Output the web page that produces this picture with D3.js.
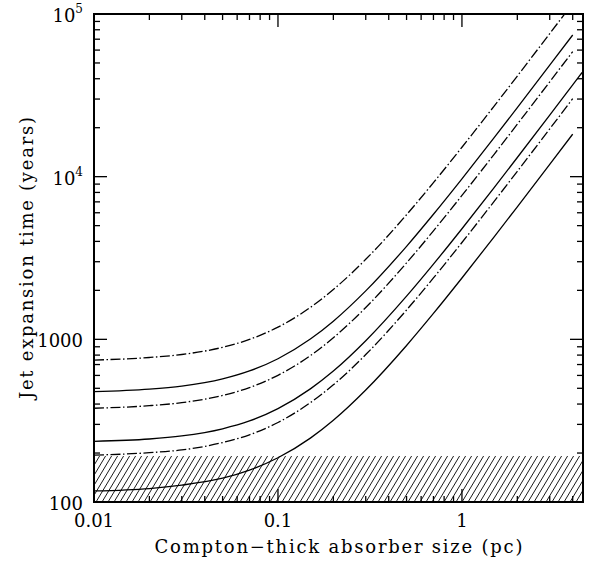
<html>
<head>
<script src="https://d3js.org/d3.v7.min.js"></script>
<style>
body { margin: 0; background: #fff; }
text { font-family: "DejaVu Serif", serif; fill: #000; }
</style>
</head>
<body>
<svg width=590 height=561></svg>
<script>
// absorber size (pc) where the curves were read
var sizes = [0.01, 0.02, 0.03, 0.05, 0.07, 0.1, 0.15, 0.2, 0.3, 0.5, 0.7, 1, 1.5, 2, 3, 4];
// the middle solid curve runs on to the right frame
var sizesMid = [0.01, 0.02, 0.03, 0.05, 0.07, 0.1, 0.15, 0.2, 0.3, 0.5, 0.7, 1, 1.5, 2, 3, 4, 4.5];
// expansion time (years), top curve first
var dashTop   = [746, 773, 807, 893, 999, 1188, 1571, 2023, 3104, 5836, 9186, 15167, 27251, 41561, 75740, 116215];
var solidTop  = [477, 494, 516, 571, 639, 760, 1004, 1293, 1985, 3731, 5873, 9697, 17423, 26572, 48424, 74301];
var dashMid   = [377, 391, 408, 452, 505, 601, 794, 1023, 1569, 2950, 4643, 7667, 13775, 21008, 38284, 58742];
var solidMid  = [236, 244, 255, 282, 315, 375, 496, 638, 980, 1842, 2899, 4786, 8600, 13116, 23902, 36674, 43700];
var dashLow   = [194, 201, 209, 232, 259, 308, 408, 525, 806, 1515, 2384, 3937, 7073, 10788, 19659, 30165];
var solidLow  = [117, 121, 127, 140, 157, 187, 247, 318, 488, 917, 1443, 2383, 4281, 6529, 11899, 18258];

var xTicks = [0.01, 0.1, 1];
var xTickLabels = ["0.01", "0.1", "1"];
var yTicks = [100, 1000, 1e4, 1e5];
var yTickLabels = [["100", ""], ["1000", ""], ["10", "4"], ["10", "5"]];
var hatchBand = [100, 192];   // shaded time range (years)

var series = [
  {xs: sizes, vals: dashTop, dashed: true},
  {xs: sizes, vals: solidTop, dashed: false},
  {xs: sizes, vals: dashMid, dashed: true},
  {xs: sizesMid, vals: solidMid, dashed: false},
  {xs: sizes, vals: dashLow, dashed: true},
  {xs: sizes, vals: solidLow, dashed: false}
];

var L = 94, R = 583, T = 14, B = 502;
var x = d3.scaleLog().domain([0.01, 4.55]).range([L, R]);
var y = d3.scaleLog().domain([100, 1e5]).range([B, T]);

var svg = d3.select("svg");

svg.append("defs").append("clipPath").attr("id", "plot")
  .append("rect").attr("x", L).attr("y", T).attr("width", R - L).attr("height", B - T);

// hatched band
var hy0 = y(hatchBand[1]), hy1 = y(hatchBand[0]);
var hh = hy1 - hy0;
svg.append("clipPath").attr("id", "hatch")
  .append("rect").attr("x", L).attr("y", hy0).attr("width", R - L).attr("height", hh);
svg.append("g").attr("clip-path", "url(#hatch)")
  .selectAll("line").data(d3.range(L - 40, R + 6, 6)).enter().append("line")
  .attr("x1", function(d) { return d; })
  .attr("y1", hy1)
  .attr("x2", function(d) { return d + hh * 0.6; })
  .attr("y2", hy0)
  .attr("stroke", "#000").attr("stroke-width", 0.9);

// curves
var line = d3.line()
  .x(function(d) { return x(d[0]); })
  .y(function(d) { return y(d[1]); })
  .curve(d3.curveMonotoneX);

svg.append("g").attr("clip-path", "url(#plot)")
  .selectAll("path").data(series).enter().append("path")
  .attr("d", function(s) { return line(s.xs.map(function(r, i) { return [r, s.vals[i]]; })); })
  .attr("fill", "none")
  .attr("stroke", "#000")
  .attr("stroke-width", 1.3)
  .attr("stroke-dasharray", function(s) { return s.dashed ? "10,2.5,1.5,2.5" : null; });

// ticks on all four sides
var xMinor = [], yMinor = [];
[0.01, 0.1, 1].forEach(function(d) {
  d3.range(2, 10).forEach(function(k) { if (k * d <= 4.55) xMinor.push(k * d); });
});
[100, 1000, 1e4].forEach(function(d) {
  d3.range(2, 10).forEach(function(k) { yMinor.push(k * d); });
});

var ticks = svg.append("g").attr("stroke", "#000").attr("stroke-width", 1.3);
function xt(vals, len) {
  vals.forEach(function(v) {
    ticks.append("line").attr("x1", x(v)).attr("x2", x(v)).attr("y1", B).attr("y2", B - len);
    ticks.append("line").attr("x1", x(v)).attr("x2", x(v)).attr("y1", T).attr("y2", T + len);
  });
}
function yt(vals, len) {
  vals.forEach(function(v) {
    ticks.append("line").attr("y1", y(v)).attr("y2", y(v)).attr("x1", L).attr("x2", L + len);
    ticks.append("line").attr("y1", y(v)).attr("y2", y(v)).attr("x1", R).attr("x2", R - len);
  });
}
xt(xTicks, 13); xt(xMinor, 6);
yt(yTicks, 13); yt(yMinor, 6);

// frame
svg.append("rect").attr("x", L).attr("y", T).attr("width", R - L).attr("height", B - T)
  .attr("fill", "none").attr("stroke", "#000").attr("stroke-width", 2);

// tick labels
svg.selectAll(".xl").data(xTicks).enter().append("text")
  .attr("x", function(d) { return x(d); })
  .attr("y", B + 25)
  .attr("text-anchor", "middle")
  .attr("font-size", 18)
  .text(function(d, i) { return xTickLabels[i]; });

var yl = svg.selectAll(".yl").data(yTicks).enter().append("text")
  .attr("x", L - 11)
  .attr("y", function(d) { return y(d) + 8; })
  .attr("text-anchor", "end")
  .attr("font-size", 18);
yl.append("tspan").text(function(d, i) { return yTickLabels[i][0]; });
yl.append("tspan").attr("font-size", 12).attr("dy", -9)
  .text(function(d, i) { return yTickLabels[i][1]; });

// axis titles
svg.append("text")
  .attr("x", (L + R) / 2).attr("y", 553)
  .attr("text-anchor", "middle").attr("font-size", 18)
  .attr("textLength", 368).attr("lengthAdjust", "spacing")
  .text("Compton\u2212thick absorber size (pc)");

svg.append("text")
  .attr("transform", "translate(33," + (T + B) / 2 + ") rotate(-90)")
  .attr("text-anchor", "middle").attr("font-size", 18)
  .attr("textLength", 282).attr("lengthAdjust", "spacing")
  .text("Jet expansion time (years)");
</script>
</body>
</html>
